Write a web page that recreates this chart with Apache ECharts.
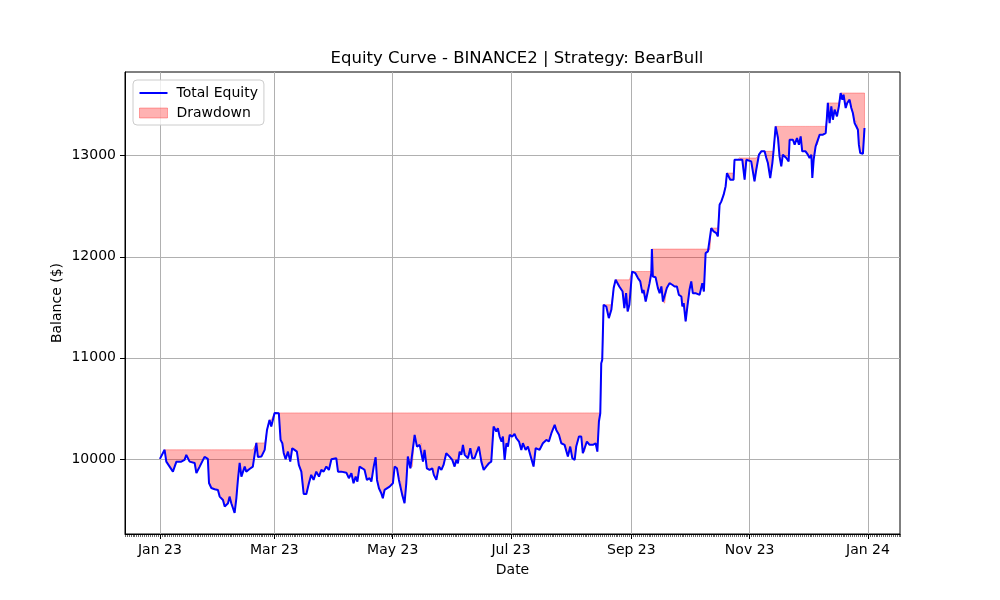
<!DOCTYPE html>
<html>
<head>
<meta charset="utf-8">
<script src="https://cdn.jsdelivr.net/npm/echarts@6/dist/echarts.min.js"></script>
<style>
  html, body { margin: 0; padding: 0; background: #fff; }
  #chart { width: 1000px; height: 600px; }
</style>
</head>
<body>
<div id="chart"></div>
<script>
const DAY = 86400000;
const startDate = Date.UTC(2023, 0, 1);

// days since 1 Jan 2023
const dayOffset = [
  0, 2.4, 3.3, 5.0, 6.7, 8.5, 11.0, 12.7, 13.6, 15.3, 17.9, 18.8, 20.5, 23.0, 24.7, 25.3,
  26.5, 28.2, 29.9, 30.8, 32.5, 33.4, 35.1, 35.9, 36.8, 38.5, 39.4, 40.2, 41.1, 42.0, 43.7,
  44.5, 46.2, 47.9, 49.7, 50.5, 52.3, 54.0, 55.2, 56.5, 57.4, 59.1, 61.3, 62.2, 63.1, 63.8,
  64.8, 66.0, 67.2, 68.2, 69.4, 70.6, 71.6, 72.9, 74.1, 75.5, 76.8, 78.0, 79.2, 80.6, 82.0,
  83.2, 84.4, 85.8, 87.1, 88.4, 90.9, 91.8, 93.5, 96.1, 97.4, 98.7, 99.8, 100.9, 101.8,
  102.9, 104.3, 105.5, 106.7, 108.1, 109.0, 110.2, 111.2, 111.9, 112.9, 114.1, 114.9, 115.8,
  118.4, 120.1, 121.0, 122.2, 123.2, 124.1, 124.9, 126.1, 127.0, 127.8, 129.1, 130.1, 131.3,
  132.5, 133.9, 134.7, 135.6, 136.4, 137.6, 139.0, 140.4, 141.2, 142.5, 143.8, 145.1, 146.2,
  147.6, 149.3, 150.7, 151.9, 152.8, 153.6, 154.5, 155.4, 156.2, 157.1, 157.9, 158.8, 160.0,
  161.0, 162.2, 163.1, 164.4, 165.7, 166.9, 168.2, 169.6, 170.8, 172.0, 173.4, 174.2, 175.1,
  176.1, 176.8, 177.7, 178.6, 179.4, 180.3, 181.6, 182.8, 183.7, 185.1, 186.3, 187.1, 188.5,
  189.7, 190.9, 192.6, 193.7, 195.7, 197.4, 199.2, 200.5, 201.8, 203.5, 204.3, 205.7, 206.9,
  208.6, 210.3, 211.5, 212.6, 213.8, 214.6, 216.0, 217.2, 218.0, 218.9, 220.1, 221.5, 223.2,
  224.6, 225.5, 226.3, 227.0, 227.5, 228.0, 228.7, 230.1, 231.4, 232.7, 233.9, 234.9, 236.8,
  238.5, 239.4, 240.3, 241.1, 242.0, 243.4, 245.1, 246.4, 247.6, 248.7, 249.3, 250.4, 251.5,
  252.4, 253.3, 253.6, 254.1, 255.5, 256.7, 257.6, 258.5, 259.3, 260.2, 261.3, 262.7, 264.1,
  265.3, 266.5, 267.5, 268.8, 269.3, 270.0, 271.0, 271.9, 273.0, 273.9, 274.7, 276.1, 278.2,
  279.6, 280.4, 281.3, 282.5, 283.4, 284.2, 285.4, 286.8, 287.6, 288.5, 289.4, 290.6, 291.6,
  292.3, 293.3, 294.0, 295.7, 296.2, 297.9, 298.8, 300.2, 301.4, 302.3, 304.8, 306.5, 307.4,
  308.8, 310.0, 311.7, 312.6, 313.4, 314.6, 315.7, 316.3, 317.4, 318.6, 319.4, 320.3, 321.1,
  322.9, 324.1, 324.6, 326.3, 327.2, 328.4, 329.4, 330.3, 331.1, 332.8, 334.0, 334.9, 335.8,
  336.3, 337.0, 338.0, 338.9, 340.1, 341.8, 343.2, 343.8, 344.3, 345.2, 346.1, 346.9, 347.8,
  349.0, 350.0, 350.9, 351.8, 352.4, 353.5, 354.3, 355.5, 356.4, 357.2, 358.1, 359.0, 359.8,
  360.3, 361.0, 362.4, 363.2
];

const equity = [
  10000, 10090, 9973, 9924, 9874, 9973, 9973, 9990, 10040, 9973, 9960, 9860, 9924, 10020, 10000, 9762,
  9712, 9700, 9693, 9627, 9594, 9528, 9561, 9627, 9561, 9465, 9610, 9792, 9960, 9825, 9924,
  9874, 9900, 9924, 10158, 10020, 10023, 10089, 10287, 10386, 10320, 10455, 10452, 10188, 10155, 10059,
  9997, 10072, 9973, 10106, 10089, 10072, 9940, 9874, 9653, 9653, 9759, 9842, 9792, 9874, 9825,
  9891, 9874, 9924, 9891, 9997, 10007, 9874, 9874, 9864, 9809, 9858, 9759, 9825, 9775,
  9924, 9907, 9891, 9792, 9809, 9775, 9924, 10017, 9792, 9710, 9660, 9610, 9693,
  9726, 9759, 9924, 9907, 9792, 9775, 9644, 9561, 9759, 10023, 9907, 9924, 10238,
  10122, 10139, 10155, 9973, 10089, 9907, 9891, 9907, 9842, 9792, 9924, 9891, 9940,
  10056, 10023, 9990, 9924, 9990, 9957, 10072, 10040, 10139, 10040, 10056, 10007, 10106,
  10007, 10007, 10056, 10122, 9973, 9891, 9924, 9957, 9973, 10320, 10271, 10304, 10221,
  10172, 10221, 9990, 10155, 10122, 10238, 10221, 10248, 10205, 10172, 10089, 10155, 10089,
  10122, 10040, 9924, 10106, 10089, 10155, 10188, 10172, 10254, 10337, 10287, 10238, 10155,
  10139, 10023, 10122, 10007, 9990, 10122, 10221, 10221, 10056, 10072, 10172, 10139, 10139,
  10155, 10072, 10370, 10452, 10947, 10980, 11525, 11508, 11393, 11475, 11690, 11772, 11706,
  11656, 11492, 11640, 11458, 11525, 11854, 11837, 11789, 11756, 11640, 11673, 11557, 11656,
  11739, 11837, 12076, 11805, 11798, 11690, 11640, 11706, 11557, 11541, 11690, 11739, 11723,
  11706, 11706, 11623, 11607, 11508, 11541, 11360, 11508, 11673, 11756, 11640, 11640, 11623,
  11739, 11656, 12036, 12053, 12069, 12284, 12251, 12234, 12201, 12515, 12548, 12614, 12696,
  12828, 12812, 12762, 12762, 12960, 12960, 12977, 12960, 12762, 12960, 12944, 12746, 12861,
  13010, 13043, 13043, 12977, 12927, 12779, 12927, 13043, 13290, 13175, 12993, 12894, 13010,
  12977, 12944, 13158, 13158, 13109, 13175, 13109, 13191, 13043, 13043, 13010, 12977, 13010,
  12779, 12960, 13092, 13109, 13208, 13208, 13224, 13373, 13522, 13323, 13488, 13356, 13455,
  13389, 13488, 13620, 13554, 13604, 13472, 13521, 13554, 13472, 13422, 13323, 13340, 13257,
  13109, 13026, 13020, 13274
];

const tickDates = ['2023-01-01', '2023-03-01', '2023-05-01', '2023-07-01', '2023-09-01', '2023-11-01', '2024-01-01'];
const tickLabels = ['Jan 23', 'Mar 23', 'May 23', 'Jul 23', 'Sep 23', 'Nov 23', 'Jan 24'];
const yTicks = [10000, 11000, 12000, 13000];

const times = dayOffset.map(d => startDate + d * DAY);
const tickTimes = tickDates.map(s => Date.parse(s + 'T00:00:00Z'));

// running peak for the drawdown band
const peak = [];
let runMax = -Infinity;
equity.forEach(v => { runMax = Math.max(runMax, v); peak.push(runMax); });

const xMin = startDate - 18 * DAY;
const xMax = startDate + 381.5 * DAY;
const FONT = 'DejaVu Sans';
const gridColor = '#b0b0b0';

const chart = echarts.init(document.getElementById('chart'));

const option = {
  animation: false,
  backgroundColor: '#fff',
  title: {
    text: 'Equity Curve - BINANCE2 | Strategy: BearBull',
    left: 512,
    top: 45,
    textAlign: 'center',
    textStyle: { fontFamily: FONT, fontSize: 16.5, fontWeight: 'normal', color: '#000' }
  },
  legend: {
    orient: 'vertical',
    left: 133,
    top: 80,
    padding: [6, 6, 5, 6],
    itemGap: 6,
    itemWidth: 28,
    itemHeight: 10,
    backgroundColor: 'rgba(255,255,255,0.8)',
    borderColor: '#cccccc',
    borderWidth: 1,
    borderRadius: 4,
    textStyle: { fontFamily: FONT, fontSize: 14, color: '#000', padding: [0, 0, 0, 4] },
    data: [
      { name: 'Total Equity', icon: 'path://M0,0 H28 V2 H0 Z', itemStyle: { color: '#0000ff' } },
      { name: 'Drawdown', icon: 'rect', itemStyle: { color: 'rgba(255,0,0,0.3)', borderColor: 'rgba(255,0,0,0.3)', borderWidth: 1 } }
    ]
  },
  grid: {
    left: 125, right: 100, top: 72, bottom: 66,
    show: true, borderColor: '#000', borderWidth: 1,
    outerBoundsMode: 'none'
  },
  xAxis: [
    {
      type: 'value',
      min: xMin,
      max: xMax,
      position: 'bottom',
      name: 'Date',
      nameLocation: 'middle',
      nameGap: 29,
      nameTextStyle: { fontFamily: FONT, fontSize: 14, color: '#000' },
      axisLine: { lineStyle: { color: '#000', width: 1 } },
      axisTick: { customValues: tickTimes, length: 5, lineStyle: { color: '#000', width: 1 } },
      axisLabel: {
        customValues: tickTimes,
        margin: 9,
        fontFamily: FONT, fontSize: 14, color: '#000',
        formatter: v => tickLabels[tickTimes.indexOf(v)] || ''
      },
      splitLine: { show: true, lineStyle: { color: gridColor, width: 1 } }
    },
    {
      // daily minor ticks
      type: 'value',
      min: xMin,
      max: xMax,
      interval: DAY,
      position: 'bottom',
      axisLine: { show: false },
      axisTick: { length: 3, lineStyle: { color: '#000', width: 0.6 } },
      axisLabel: { show: false },
      splitLine: { show: false }
    }
  ],
  yAxis: {
    type: 'value',
    min: 9257,
    max: 13828,
    name: 'Balance ($)',
    nameLocation: 'middle',
    nameGap: 61,
    nameMoveOverlap: false,
    nameTextStyle: { fontFamily: FONT, fontSize: 14, color: '#000' },
    axisLine: { show: true, lineStyle: { color: '#000', width: 1 } },
    axisTick: { show: true, customValues: yTicks, length: 5, lineStyle: { color: '#000', width: 1 } },
    axisLabel: {
      customValues: yTicks,
      margin: 9,
      fontFamily: FONT, fontSize: 14, color: '#000',
      formatter: v => String(v)
    },
    splitLine: { show: true, lineStyle: { color: gridColor, width: 1 } }
  },
  series: [
    {
      name: 'Drawdown',
      type: 'custom',
      xAxisIndex: 0,
      silent: true,
      itemStyle: { color: 'rgba(255,0,0,0.3)' },
      encode: { x: 0, y: [1, 2] },
      data: times.map((t, i) => [t, equity[i], peak[i]]),
      renderItem: (params, api) => {
        if (params.dataIndex !== 0) return null;
        const upper = times.map((t, i) => api.coord([t, peak[i]]));
        const lower = times.map((t, i) => api.coord([t, equity[i]])).reverse();
        return {
          type: 'polygon',
          shape: { points: upper.concat(lower) },
          style: { fill: 'rgba(255,0,0,0.3)', stroke: 'rgba(255,0,0,0.3)', lineWidth: 1 }
        };
      }
    },
    {
      name: 'Total Equity',
      type: 'line',
      xAxisIndex: 0,
      symbol: 'none',
      z: 5,
      lineStyle: { color: '#0000ff', width: 2 },
      itemStyle: { color: '#0000ff' },
      data: times.map((t, i) => [t, equity[i]])
    }
  ]
};

chart.setOption(option);
</script>
</body>
</html>
